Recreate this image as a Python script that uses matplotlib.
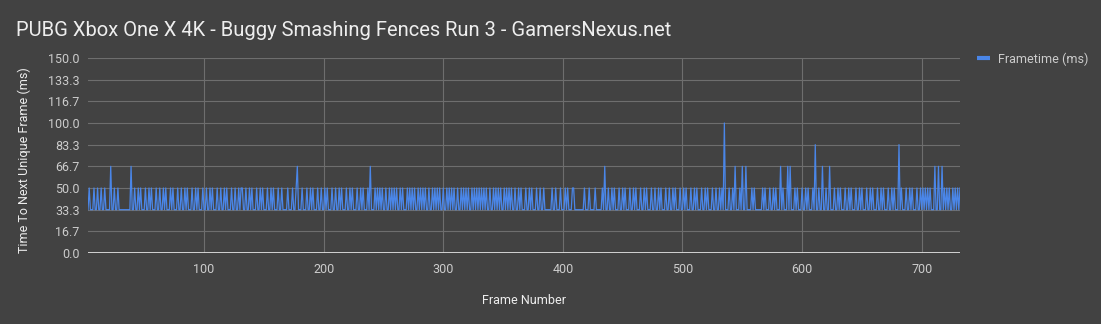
#
# PUBG Xbox One X 4K frametime chart - Buggy Smashing Fences Run 3
#

import numpy as np
import matplotlib
matplotlib.use('Agg')
from matplotlib import pyplot as plt
from matplotlib.lines import Line2D

plt.rcParams['font.family'] = ['Roboto', 'DejaVu Sans']

# =========================================================================
# data : one code per frame
#   2 = 33.3 ms, 3 = 50.0 ms, 4 = 66.7 ms, 5 = 83.3 ms, 6 = 100.0 ms

levels = {'2': 33.33, '3': 50.0, '4': 66.67, '5': 83.33, '6': 100.0}

firstFrame = 3
frameCodes = [
  "2322232232232232222422322322222222224",            # frames 3-39
  "223223232223223232223223223232",                   # 40-69
  "223232223223223232223223232223",                   # 70-99
  "223223232223223223232223223223",                   # 100-129
  "233223223232223223232223223232",                   # 130-159
  "223223222232223223",                               # 160-177
  "422",                                              # 178-180
  "232223223232223223223232223223",                   # 181-210
  "223232223223232223223232223",                      # 211-237
  "242",                                              # 238-240
  "223232323223223232323223232223",                   # 241-270
  "232323223232323223223232323223",                   # 271-300
  "223232323223223232323223232323",                   # 301-330
  "232323223223232323223232323223",                   # 331-360
  "223232223223232223223223",                         # 361-384
  "222222",                                           # 385-390
  "322322232223232223",                               # 391-408
  "322222222322232222322222324",                      # 409-435
  "223223232223223232223223232223",                   # 436-465
  "223232223223223232223223223232",                   # 466-495
  "223223232223223232223223232223223223232",          # 496-534
  "622232232422232422422",                            # 535-555
  "223232222223232223223232",                         # 556-579
  "224232224242",                                     # 580-591
  "223232223223232223",                               # 592-609
  "252232242232242",                                  # 610-624
  "223223232223223232223223232223",                   # 625-654
  "223232223223232223223232",                         # 655-678
  "225",                                              # 679-681
  "232223223232223223232323232",                      # 682-708
  "224224224",                                        # 709-717
  "232323223232323",                                  # 718-732
]

seriesName = 'Frametime (ms)'
titleText = 'PUBG Xbox One X 4K - Buggy Smashing Fences Run 3 - GamersNexus.net'
xLabel = 'Frame Number'
yLabel = 'Time To Next Unique Frame (ms)'
xTicks = [100, 200, 300, 400, 500, 600, 700]
yTicks = np.linspace(0, 150, 10)

# =========================================================================

def frametimeChart():

  """ plots the frametime line chart """

  codes = ''.join(frameCodes)
  assert len(codes) == 730, len(codes)
  ms = [levels[c] for c in codes]
  frames = np.arange(firstFrame, firstFrame + len(ms))

  bg = '#424242'
  W, H = 1101, 324
  fig = plt.figure(figsize=(W / 100, H / 100), dpi=100, facecolor=bg)
  ax = fig.add_axes([88 / W, 1 - 253 / H, (960 - 88) / W, (253 - 58) / H])
  ax.set_facecolor(bg)

  ax.plot(frames, ms, color='#4a86e8', lw=0.9, zorder=3)

  ax.set_xlim(frames[0], frames[-1])
  ax.set_ylim(0, 150)
  ax.set_xticks(xTicks)
  ax.set_xticklabels([str(t) for t in xTicks])
  ax.set_yticks(yTicks)
  ax.set_yticklabels(['%.1f' % v for v in yTicks])
  ax.tick_params(length=0, labelsize=9, colors='#cccccc')
  ax.tick_params(axis='y', pad=6)
  ax.tick_params(axis='x', pad=7)
  ax.grid(True, color='#6e6e6e', lw=0.8, zorder=1)
  for s in ax.spines.values():
    s.set_visible(False)
  ax.axhline(0, color='#dddddd', lw=1.3, zorder=4)

  fig.text(16 / W, 1 - 30 / H, titleText, fontsize=14.5, color='#eeeeee',
           ha='left', va='center')
  fig.text(24 / W, 1 - 160 / H, yLabel, fontsize=9, color='#eeeeee',
           rotation=90, ha='center', va='center')
  fig.text(524 / W, 1 - 300 / H, xLabel, fontsize=9, color='#eeeeee',
           ha='center', va='center')

  handle = Line2D([], [], color='#4a86e8', lw=3, solid_capstyle='butt')
  fig.legend([handle], [seriesName], loc='center left',
             bbox_to_anchor=(977 / W, 1 - 59 / H), frameon=False,
             fontsize=9, labelcolor='#cccccc', handlelength=1.0,
             handletextpad=0.7, borderpad=0, borderaxespad=0)

  fig.savefig('out.png', dpi=100, facecolor=bg)

# ============================= mainProgram ===============================

frametimeChart()

# =========================================================================
